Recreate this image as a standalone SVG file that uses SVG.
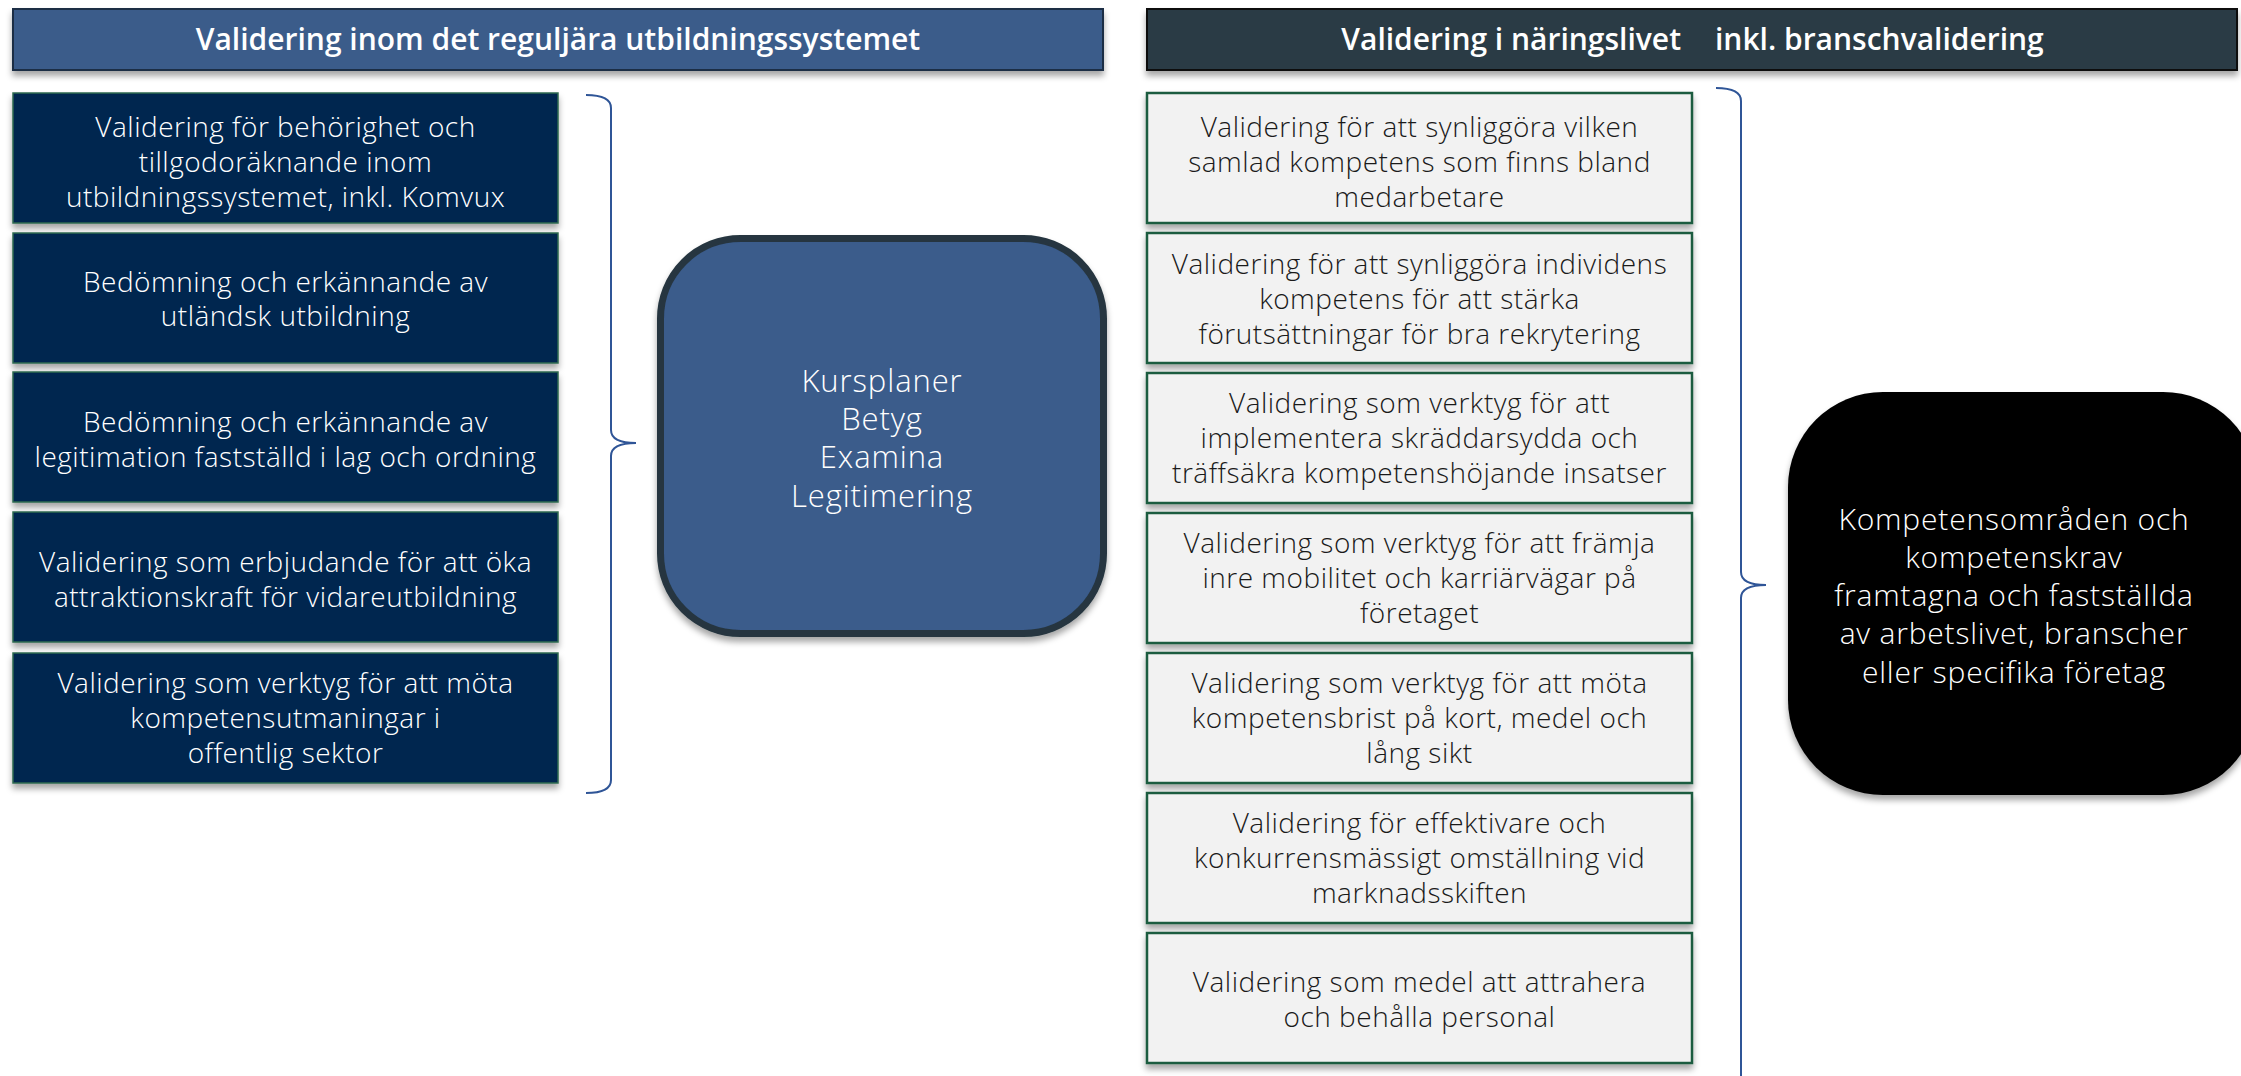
<svg xmlns="http://www.w3.org/2000/svg" width="2241" height="1076" viewBox="0 0 2241 1076">
<defs>
<filter id="sh" x="-5%" y="-10%" width="110%" height="130%">
<feDropShadow dx="0" dy="5" stdDeviation="3" flood-color="#000" flood-opacity="0.35"/>
</filter>
</defs>
<style>
.hdr{font-family:"Open Sans","Liberation Sans",sans-serif;font-weight:600;font-size:30px;fill:#fff;text-anchor:middle}
.lb rect{fill:#052650;stroke:#2d6a4f;stroke-width:1.5}
.rb rect{fill:#f2f2f2;stroke:#1f5c3f;stroke-width:2.5}
.t{font-family:"Open Sans","Liberation Sans",sans-serif;font-weight:300;font-size:28px;letter-spacing:0.5px;text-anchor:middle}
.lb text{fill:#fff}
.rb text{fill:#1a1a1a}
.big{font-family:"Open Sans","Liberation Sans",sans-serif;font-weight:300;font-size:30px;letter-spacing:0.8px;fill:#fff;text-anchor:middle}
.cb{font-size:31px;letter-spacing:0.9px}
.br{fill:none;stroke:#2f5597;stroke-width:2}
</style>

<g id="header-left">
<rect x="13" y="9" width="1090" height="61" fill="#3a5b8a" stroke="#1f2f45" stroke-width="2" filter="url(#sh)"/>
<text class="hdr" x="558" y="50">Validering inom det reguljära utbildningssystemet</text>
</g>
<g id="header-right">
<rect x="1147" y="9" width="1090" height="61" fill="#293a44" stroke="#111" stroke-width="2" filter="url(#sh)"/>
<text class="hdr" y="50"><tspan x="1681" text-anchor="end">Validering i näringslivet</tspan><tspan x="1715" text-anchor="start">inkl. branschvalidering</tspan></text>
</g>

<g id="left1" class="lb">
<rect x="13" y="93" width="545" height="130" filter="url(#sh)"/>
<text class="t" x="285.5" y="137">Validering för behörighet och</text>
<text class="t" x="285.5" y="172">tillgodoräknande inom</text>
<text class="t" x="285.5" y="207">utbildningssystemet, inkl. Komvux</text>
</g>
<g id="left2" class="lb">
<rect x="13" y="233" width="545" height="130" filter="url(#sh)"/>
<text class="t" x="285.5" y="292">Bedömning och erkännande av</text>
<text class="t" x="285.5" y="326">utländsk utbildning</text>
</g>
<g id="left3" class="lb">
<rect x="13" y="372" width="545" height="130" filter="url(#sh)"/>
<text class="t" x="285.5" y="432">Bedömning och erkännande av</text>
<text class="t" x="285.5" y="467">legitimation fastställd i lag och ordning</text>
</g>
<g id="left4" class="lb">
<rect x="13" y="512" width="545" height="130" filter="url(#sh)"/>
<text class="t" x="285.5" y="572">Validering som erbjudande för att öka</text>
<text class="t" x="285.5" y="607">attraktionskraft för vidareutbildning</text>
</g>
<g id="left5" class="lb">
<rect x="13" y="653" width="545" height="130" filter="url(#sh)"/>
<text class="t" x="285.5" y="693">Validering som verktyg för att möta</text>
<text class="t" x="285.5" y="728">kompetensutmaningar i</text>
<text class="t" x="285.5" y="763">offentlig sektor</text>
</g>

<g id="center-box">
<rect x="660.5" y="238.5" width="443" height="395" rx="80" ry="80" fill="#3a5b8b" stroke="#26363f" stroke-width="7" filter="url(#sh)"/>
<text class="big cb" x="882" y="392">Kursplaner</text>
<text class="big cb" x="882" y="430">Betyg</text>
<text class="big cb" x="882" y="468">Examina</text>
<text class="big cb" x="882" y="507">Legitimering</text>
</g>

<g id="right1" class="rb">
<rect x="1147" y="93" width="545" height="130" filter="url(#sh)"/>
<text class="t" x="1419.5" y="137">Validering för att synliggöra vilken</text>
<text class="t" x="1419.5" y="172">samlad kompetens som finns bland</text>
<text class="t" x="1419.5" y="207">medarbetare</text>
</g>
<g id="right2" class="rb">
<rect x="1147" y="233" width="545" height="130" filter="url(#sh)"/>
<text class="t" x="1419.5" y="274">Validering för att synliggöra individens</text>
<text class="t" x="1419.5" y="309">kompetens för att stärka</text>
<text class="t" x="1419.5" y="344">förutsättningar för bra rekrytering</text>
</g>
<g id="right3" class="rb">
<rect x="1147" y="373" width="545" height="130" filter="url(#sh)"/>
<text class="t" x="1419.5" y="413">Validering som verktyg för att</text>
<text class="t" x="1419.5" y="448">implementera skräddarsydda och</text>
<text class="t" x="1419.5" y="483">träffsäkra kompetenshöjande insatser</text>
</g>
<g id="right4" class="rb">
<rect x="1147" y="513" width="545" height="130" filter="url(#sh)"/>
<text class="t" x="1419.5" y="553">Validering som verktyg för att främja</text>
<text class="t" x="1419.5" y="588">inre mobilitet och karriärvägar på</text>
<text class="t" x="1419.5" y="623">företaget</text>
</g>
<g id="right5" class="rb">
<rect x="1147" y="653" width="545" height="130" filter="url(#sh)"/>
<text class="t" x="1419.5" y="693">Validering som verktyg för att möta</text>
<text class="t" x="1419.5" y="728">kompetensbrist på kort, medel och</text>
<text class="t" x="1419.5" y="763">lång sikt</text>
</g>
<g id="right6" class="rb">
<rect x="1147" y="793" width="545" height="130" filter="url(#sh)"/>
<text class="t" x="1419.5" y="833">Validering för effektivare och</text>
<text class="t" x="1419.5" y="868">konkurrensmässigt omställning vid</text>
<text class="t" x="1419.5" y="903">marknadsskiften</text>
</g>
<g id="right7" class="rb">
<rect x="1147" y="933" width="545" height="130" filter="url(#sh)"/>
<text class="t" x="1419.5" y="992">Validering som medel att attrahera</text>
<text class="t" x="1419.5" y="1027">och behålla personal</text>
</g>

<g id="black-box">
<rect x="1788" y="392" width="470" height="403" rx="95" ry="95" fill="#000" filter="url(#sh)"/>
<text class="big" x="2014" y="530">Kompetensområden och</text>
<text class="big" x="2014" y="568">kompetenskrav</text>
<text class="big" x="2014" y="606">framtagna och fastställda</text>
<text class="big" x="2014" y="644">av arbetslivet, branscher</text>
<text class="big" x="2014" y="683">eller specifika företag</text>
</g>

<g id="connectors">
<path class="br" d="M586,95 Q611,95 611,108 L611,430 Q611,443 636,443 Q611,443 611,456 L611,780 Q611,793 586,793"/>
<path class="br" d="M1716,88 Q1741,88 1741,101 L1741,572 Q1741,585 1766,585 Q1741,585 1741,598 L1741,1090"/>
</g>
</svg>
